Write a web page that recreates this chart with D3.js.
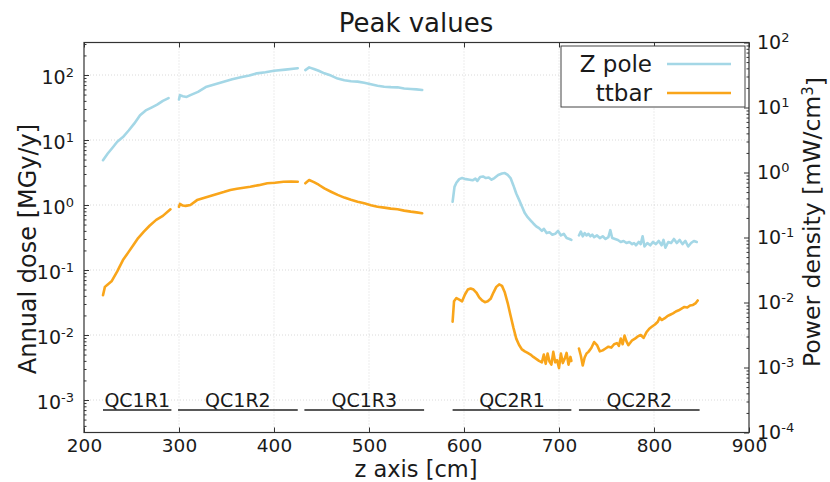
<!DOCTYPE html>
<html>
<head>
<meta charset="utf-8">
<script src="https://cdn.jsdelivr.net/npm/d3@7/dist/d3.min.js"></script>
<style>
  html, body { margin: 0; padding: 0; background: #fff; }
  svg { display: block; font-family: "DejaVu Sans", sans-serif; }
</style>
</head>
<body>
<svg id="chart" width="830" height="482"></svg>
<script>
// ---- data -------------------------------------------------------------
// Position along the beam (cm); null breaks the line between magnets.
const zpoleZ = [220,225,230,235,241,247,253,259,265,271,277,283,289,
  null,
  300,301,304,308,312,320,329,338,347,356,365,374,382,391,400,412,425,
  null,
  433,437,442,447,453,460,467,474,481,488,495,502,509,516,523,530,537,544,550,556,
  null,
  588,590,592,595,598,602,606,609,612,614,617,620,623,626,629,632,636,640,643,646,649,652,655,658,661,664,667,670,673,676,679,682,684,687,690,693,696,699,702,705,708,711,713,
  null,
  721,723,725,727,729,731,733,735,737,740,743,746,749,752,754,756,759,762,765,768,771,774,777,779,781,784,786,788,790,793,796,799,802,805,808,810,812,815,818,821,824,827,830,833,836,839,842,845];
const zpoleDose = [4.9,6.2,7.6,9.4,11.1,14.0,18.0,24.0,28.5,31.5,35.0,40.0,44.0,
  null,
  42,49,47,46,49,55,66,72,79,86,92,98,106,110,116,121,127,
  null,
  119,131,124,116,106,98,88,83,80,79,76,72,68.5,66,65,64.6,62,61,60,58.8,
  null,
  1.12,1.9,2.2,2.5,2.6,2.5,2.45,2.4,2.55,2.35,2.7,2.75,2.6,2.65,2.45,2.6,2.9,3.05,3.1,2.9,2.6,2.0,1.5,1.2,0.95,0.75,0.65,0.58,0.52,0.47,0.44,0.40,0.43,0.37,0.38,0.35,0.36,0.40,0.34,0.36,0.31,0.30,0.29,
  null,
  0.34,0.39,0.33,0.37,0.34,0.36,0.33,0.35,0.32,0.34,0.31,0.33,0.30,0.32,0.41,0.31,0.30,0.29,0.27,0.28,0.26,0.27,0.25,0.26,0.24,0.27,0.25,0.33,0.23,0.26,0.24,0.27,0.25,0.28,0.24,0.29,0.22,0.27,0.26,0.30,0.26,0.29,0.25,0.28,0.23,0.26,0.28,0.27];

const ttbarZ = [220,222,225,229,235,241,247,252,257,263,269,276,283,291,
  null,
  300,301,304,307,312,319,326,333,340,347,354,361,368,375,384,393,401,410,418,425,
  null,
  433,437,442,447,453,460,467,474,481,488,495,502,509,516,523,530,537,544,550,556,
  null,
  588,589.5,592,595,598,601,604,607,610,613,616,619,622,625,628,631,634,637,640,643,646,649,652,655,658,661,664,667,670,673,676,679,682,684,686,688,690,692,694,696,698,700,702,704,706,708,710,712,713,
  null,
  721,723,725,727,729,731,734,737,740,743,746,749,752,755,758,761,763,765,767,769,771,773,775,777,780,783,786,789,792,795,798,801,804,806,808,811,814,817,820,823,826,829,832,835,838,841,844,846];
const ttbarDose = [0.041,0.055,0.060,0.067,0.095,0.142,0.19,0.243,0.31,0.39,0.48,0.59,0.68,0.86,
  null,
  0.94,1.04,0.98,0.97,1.0,1.19,1.28,1.38,1.48,1.58,1.70,1.78,1.84,1.91,2.02,2.16,2.20,2.28,2.30,2.28,
  null,
  2.16,2.42,2.25,2.05,1.80,1.60,1.43,1.30,1.20,1.12,1.06,0.99,0.94,0.91,0.88,0.86,0.82,0.79,0.77,0.745,
  null,
  0.016,0.033,0.037,0.035,0.033,0.042,0.050,0.052,0.050,0.045,0.038,0.034,0.032,0.033,0.036,0.045,0.055,0.060,0.057,0.045,0.031,0.020,0.013,0.0088,0.0070,0.0060,0.0056,0.0053,0.0050,0.0046,0.0043,0.0040,0.0038,0.0050,0.0036,0.0052,0.0039,0.0035,0.0055,0.0038,0.0041,0.0031,0.0052,0.0037,0.0043,0.0053,0.0035,0.0046,0.0040,
  null,
  0.0062,0.0048,0.0034,0.0045,0.0052,0.0055,0.0063,0.0078,0.0070,0.0056,0.0058,0.0062,0.0066,0.0064,0.0072,0.0075,0.0068,0.0088,0.0072,0.0098,0.0080,0.0070,0.0076,0.0083,0.0088,0.0095,0.0100,0.0090,0.0110,0.0125,0.0135,0.0145,0.0160,0.0185,0.0170,0.0180,0.0195,0.0205,0.0215,0.0230,0.0240,0.0255,0.0270,0.0265,0.0285,0.0290,0.0310,0.0340];

// Magnet regions along z
const magnetNames = ["QC1R1","QC1R2","QC1R3","QC2R1","QC2R2"];
const magnetStart = [220, 299, 432, 588, 721];
const magnetEnd   = [292, 425, 558, 713, 848];

const xTicks = [200,300,400,500,600,700,800,900];
const doseTicks = [1e-3,1e-2,1e-1,1,1e1,1e2];
const powerTicks = [1e-4,1e-3,1e-2,1e-1,1,1e1,1e2];

const seriesNames = ["Z pole","ttbar"];
const seriesColors = ["#a4d7e6","#f9a51a"];

// ---- layout -----------------------------------------------------------
const svg = d3.select("#chart");
const L = 84, R = 749, T = 42.5, B = 432.5;
const ink = "#1a1a1a";

const x = d3.scaleLinear().domain([200, 900]).range([L, R]);
const yDose = d3.scaleLog().domain([Math.pow(10,-3.5), Math.pow(10,2.5)]).range([B, T]);
const yPower = d3.scaleLog().domain([1e-4, 1e2]).range([B, T]);

// grid
const grid = svg.append("g").attr("stroke", "#d0d0d0").attr("stroke-width", 0.8).attr("stroke-dasharray", "1,2");
xTicks.slice(1, -1).forEach(v => grid.append("line").attr("x1", x(v)).attr("x2", x(v)).attr("y1", T).attr("y2", B));
doseTicks.forEach(v => grid.append("line").attr("x1", L).attr("x2", R).attr("y1", yDose(v)).attr("y2", yDose(v)));

// minor log ticks
function minors(scale) {
  const [a, b] = scale.domain();
  const out = [];
  for (let e = Math.floor(Math.log10(a)); e <= Math.ceil(Math.log10(b)); e++) {
    for (let m = 2; m <= 9; m++) {
      const v = m * Math.pow(10, e);
      if (v >= a && v <= b) out.push(v);
    }
  }
  return out;
}

function supLabel(sel, d) {
  const e = Math.round(Math.log10(d));
  sel.text(null);
  sel.append("tspan").text("10");
  sel.append("tspan").attr("dy", "-0.55em").attr("font-size", "13px").text(e);
}

// x axes (bottom labelled, top ticks only), ticks pointing inward
const xb = svg.append("g").attr("transform", `translate(0,${B})`)
  .call(d3.axisBottom(x).tickValues(xTicks).tickSizeInner(-5).tickSizeOuter(0).tickPadding(6));
xb.selectAll("text").attr("font-size", "18.5px").attr("fill", ink).attr("font-family", "DejaVu Sans");
svg.append("g").attr("transform", `translate(0,${T})`)
  .call(d3.axisTop(x).tickValues(xTicks).tickSizeInner(-5).tickSizeOuter(0).tickFormat(""));

// left (dose) axis
const yl = svg.append("g").attr("transform", `translate(${L},0)`)
  .call(d3.axisLeft(yDose).tickValues(doseTicks).tickSizeInner(-5).tickSizeOuter(0).tickPadding(10));
yl.selectAll("text").attr("font-size", "19px").attr("fill", ink).attr("font-family", "DejaVu Sans").attr("dy", "0.45em")
  .each(function(d) { supLabel(d3.select(this), d); });
svg.append("g").attr("transform", `translate(${L},0)`)
  .call(d3.axisLeft(yDose).tickValues(minors(yDose)).tickSizeInner(-2.5).tickSizeOuter(0).tickFormat(""));

// right (power density) axis
const yr = svg.append("g").attr("transform", `translate(${R},0)`)
  .call(d3.axisRight(yPower).tickValues(powerTicks).tickSizeInner(-5).tickSizeOuter(0).tickPadding(8));
yr.selectAll("text").attr("font-size", "19px").attr("fill", ink).attr("font-family", "DejaVu Sans").attr("dy", "0.3em")
  .each(function(d) { supLabel(d3.select(this), d); });
svg.append("g").attr("transform", `translate(${R},0)`)
  .call(d3.axisRight(yPower).tickValues(minors(yPower)).tickSizeInner(-2.5).tickSizeOuter(0).tickFormat(""));

svg.selectAll(".domain").remove();
svg.selectAll(".tick line").attr("stroke", "#333");

// frame
svg.append("rect").attr("x", L).attr("y", T).attr("width", R - L).attr("height", B - T)
  .attr("fill", "none").attr("stroke", "#333").attr("stroke-width", 1.2);

// series
const line = d3.line()
  .defined(d => d[1] != null)
  .x(d => x(d[0]))
  .y(d => yDose(d[1]));
const seriesData = [
  d3.zip(zpoleZ, zpoleDose),
  d3.zip(ttbarZ, ttbarDose)
];
seriesData.forEach((pts, i) => {
  svg.append("path").datum(pts)
    .attr("fill", "none").attr("stroke", seriesColors[i]).attr("stroke-width", 2.6)
    .attr("stroke-linejoin", "round").attr("stroke-linecap", "round")
    .attr("d", line);
});

// magnet regions
const regY = 410;
magnetNames.forEach((n, i) => {
  svg.append("line").attr("x1", x(magnetStart[i])).attr("x2", x(magnetEnd[i]))
    .attr("y1", regY).attr("y2", regY).attr("stroke", "#222").attr("stroke-width", 1.5);
  svg.append("text").attr("x", (x(magnetStart[i]) + x(magnetEnd[i])) / 2).attr("y", regY - 3)
    .attr("text-anchor", "middle").attr("font-size", "19px").attr("fill", ink).text(n);
});

// legend
const lg = svg.append("g");
lg.append("rect").attr("x", 561).attr("y", 46).attr("width", 184).attr("height", 61)
  .attr("fill", "#fff").attr("stroke", "#444").attr("stroke-width", 1);
seriesNames.forEach((n, i) => {
  const yy = 64 + i * 29;
  lg.append("text").attr("x", 652).attr("y", yy).attr("dy", "0.35em").attr("text-anchor", "end")
    .attr("font-size", "23px").attr("fill", ink).text(n);
  lg.append("line").attr("x1", 667).attr("x2", 731).attr("y1", yy).attr("y2", yy)
    .attr("stroke", seriesColors[i]).attr("stroke-width", 2.6);
});

// titles
svg.append("text").attr("x", 416).attr("y", 32).attr("text-anchor", "middle")
  .attr("font-size", "26px").attr("fill", ink).text("Peak values");
svg.append("text").attr("x", 416).attr("y", 477).attr("text-anchor", "middle")
  .attr("font-size", "22.5px").attr("fill", ink).text("z axis [cm]");
svg.append("text").attr("transform", `translate(36,249) rotate(-90)`).attr("text-anchor", "middle")
  .attr("font-size", "24px").attr("fill", ink).text("Annual dose [MGy/y]");
const rl = svg.append("text").attr("transform", `translate(820,222) rotate(-90)`).attr("text-anchor", "middle")
  .attr("font-size", "23.5px").attr("fill", ink);
rl.append("tspan").text("Power density [mW/cm");
rl.append("tspan").attr("dy", "-0.45em").attr("font-size", "15px").text("3");
rl.append("tspan").attr("dy", "0.45em").text("]");
</script>
</body>
</html>
